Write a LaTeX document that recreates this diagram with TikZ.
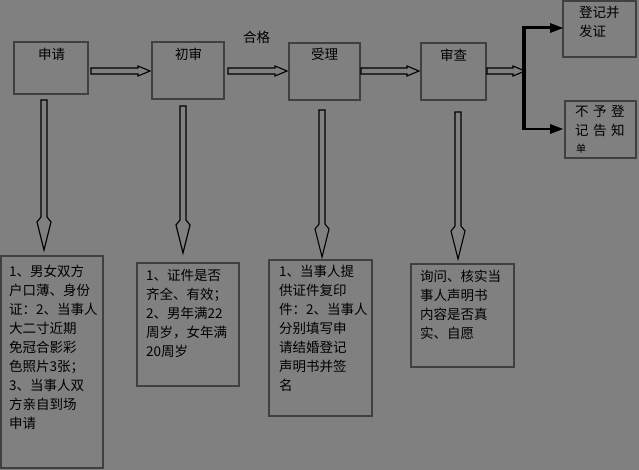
\documentclass[tikz,border=0pt]{standalone}
\usepackage{fontspec}
\setmainfont{Noto Sans CJK SC}
\begin{document}
\begin{tikzpicture}[x=1pt,y=-1pt,
  box/.style={draw=black!75,line width=1.2pt,fill=none},
  txt/.style={inner sep=0pt,anchor=north west,align=left,font=\fontsize{13.5}{19}\selectfont,text=black},
  harr/.style={draw=black,line width=1.1pt,fill=black!50}]
\fill[black!50] (0,0) rectangle (639,470);
\useasboundingbox (0,0) rectangle (639,470);
% top boxes
\draw[box] (14,42) rectangle (88,94);
\node[txt] (t1) at (38,48) {申请};
\draw[box] (152,42) rectangle (224,99);
\node[txt] (t2) at (175,48) {初审};
\draw[box] (289,43) rectangle (360,100);
\node[txt] (t3) at (311,48) {受理};
\draw[box] (421,43) rectangle (486,100);
\node[txt] (t4) at (440,49) {审查};
\draw[box] (563,1) rectangle (636,57);
\node[txt] (t5) at (579,6) {登记并\\发证};
\draw[box] (565,101) rectangle (636,158);
\node[txt] (t6) at (575,105) {不\,\,予\,\,登\\记\,\,告\,\,知};
\node[txt,font=\fontsize{10}{10}\selectfont] (t7) at (576,144) {单};
\node[txt] (hg) at (243,31) {合格};
% horizontal double arrows
\foreach \a/\b in {91/150,228/287,361/419,487/525}{
  \draw[harr] (\a,68) -- ({\b-12},68) -- ({\b-12},66) -- (\b,71) -- ({\b-12},76) -- ({\b-12},74) -- (\a,74) -- cycle;
}
% branch
\draw[black,line width=4pt] (524,28) -- (524,128);
\draw[black,line width=3pt] (522,28) -- (552,28);
\draw[black,line width=2pt] (522,129) -- (552,129);
\fill[black] (563,28) -- (550,23) -- (550,33) -- cycle;
\fill[black] (563,129) -- (550,124) -- (550,134) -- cycle;
% vertical double arrows
\foreach \x/\a/\b in {44/100/250,183/106/253,322/110/257,458/112/259}{
  \draw[harr] ({\x-3},\a) -- ({\x-3},{\b-33}) -- ({\x-7},{\b-28}) -- (\x,\b) -- ({\x+7},{\b-28}) -- ({\x+3},{\b-33}) -- ({\x+3},\a) -- cycle;
}
% bottom boxes
\draw[box] (1,256) rectangle (103,468);
\node[txt] (b1) at (9,265) {1、男女双方\\户口薄、身份\\证：2、当事人\\大二寸近期\\免冠合影彩\\色照片3张；\\3、当事人双\\方亲自到场\\申请};
\draw[box] (137,263) rectangle (239,386);
\node[txt] (b2) at (146,269) {1、证件是否\\齐全、有效；\\2、男年满22\\周岁，女年满\\20周岁};
\draw[box] (269,260) rectangle (372,416);
\node[txt] (b3) at (279,265) {1、当事人提\\供证件复印\\件：2、当事人\\分别填写申\\请结婚登记\\声明书并签\\名};
\draw[box] (411,264) rectangle (514,367);
\node[txt] (b4) at (420,270) {询问、核实当\\事人声明书\\内容是否真\\实、自愿};
\end{tikzpicture}
\end{document}
